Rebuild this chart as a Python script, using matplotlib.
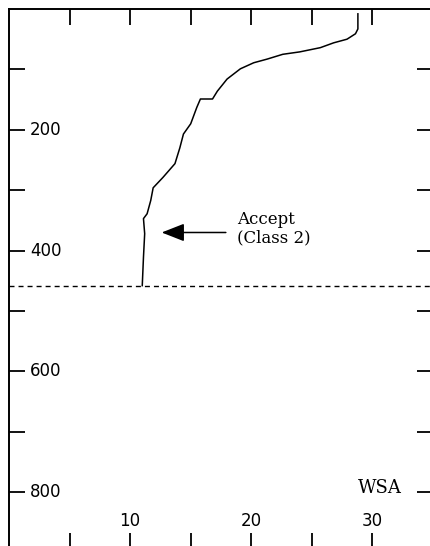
import matplotlib
matplotlib.use("Agg")
import matplotlib.pyplot as plt

# curve: WSA value vs depth (y grows downward)
wsa = [28.8, 28.8, 28.6, 27.9, 26.8, 25.7, 24.0, 22.6, 21.3, 20.2, 19.1, 18.0,
       17.2, 16.8, 15.8, 15.5, 15.0, 14.4, 14.1, 13.7, 12.7, 11.9, 11.7, 11.4,
       11.1, 11.2, 11.1, 11.0]
depth = [8, 33, 41, 50, 56, 64, 71, 75, 83, 89, 99, 116,
         136, 149, 149, 163, 190, 207, 230, 256, 279, 296, 317, 339,
         347, 372, 411, 458]

accept_level = 458
x_ticks = [5, 10, 15, 20, 25, 30]
x_labels = [10, 20, 30]
y_ticks = [100, 200, 300, 400, 500, 600, 700, 800]
y_labels = [200, 400, 600, 800]


def main():
    fig = plt.figure(figsize=(4.3, 5.46), dpi=100)
    ax = fig.add_axes([9 / 430, -3 / 546, 424 / 430, 540 / 546])

    ax.plot(wsa, depth, color="black", lw=1.1)
    ax.axhline(accept_level, color="black", lw=1.0, linestyle=(0, (3.6, 2.9)))

    ax.set_xlim(0, 35)
    ax.set_ylim(894, 0)

    ax.set_xticks(x_ticks)
    ax.set_yticks(y_ticks)
    ax.tick_params(direction="in", length=11.5, width=1.3, top=True, right=True,
                   labelleft=False, labelbottom=False)
    for s in ax.spines.values():
        s.set_linewidth(1.4)

    for v in y_labels:
        ax.text(1.75, v, str(v), ha="left", va="center", fontsize=12,
                family="DejaVu Sans")
    for v in x_labels:
        ax.text(v, 848, str(v), ha="center", va="center", fontsize=12,
                family="DejaVu Sans")

    ax.text(30.6, 793, "WSA", ha="center", va="center", fontsize=13,
            family="DejaVu Serif")

    ax.annotate("", xy=(12.6, 370), xytext=(17.9, 370),
                arrowprops=dict(arrowstyle="-|>,head_length=1.4,head_width=0.55",
                                color="black", lw=1.1, mutation_scale=10,
                                shrinkA=0, shrinkB=0))
    ax.text(18.85, 364, "Accept\n(Class 2)", ha="left", va="center",
            fontsize=12, family="DejaVu Serif", linespacing=1.15)

    fig.savefig("out.png", dpi=100)


if __name__ == '__main__':
    main()
